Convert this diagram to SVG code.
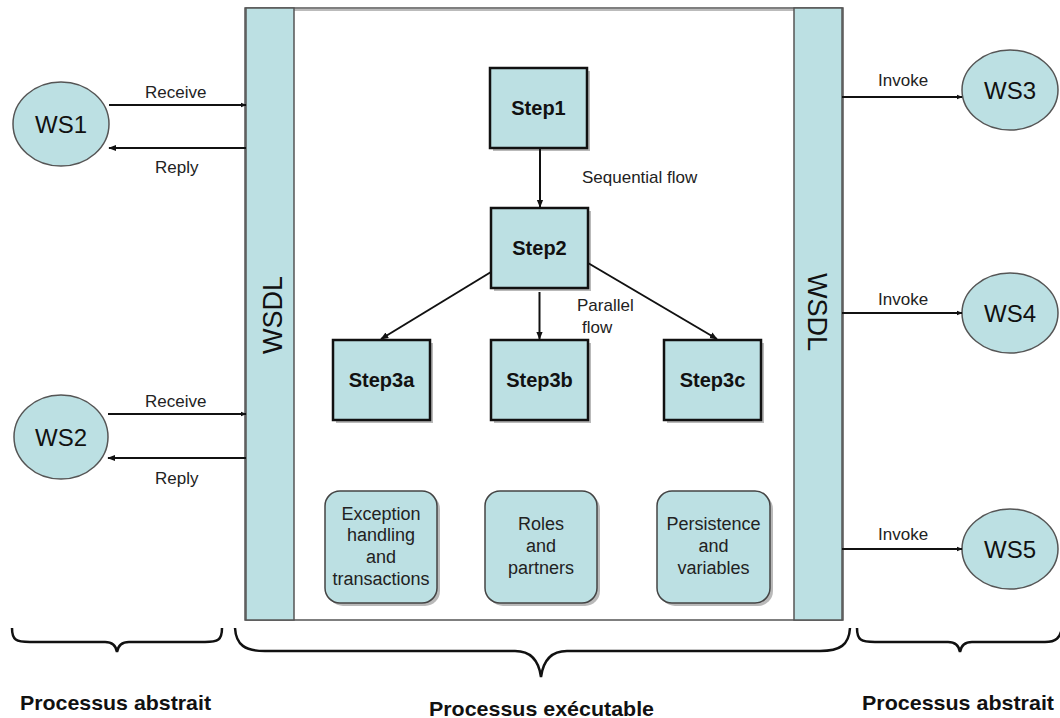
<svg xmlns="http://www.w3.org/2000/svg" width="1060" height="718" viewBox="0 0 1060 718">
<style>
.fill{fill:#BCE0E3}
.ell{fill:#BCE0E3;stroke:#555;stroke-width:1.5}
.bar{fill:#BCE0E3;stroke:#555;stroke-width:1.5}
.step{fill:#BCE0E3;stroke:#111;stroke-width:2.5}
.shadow{fill:#8a8a8a;opacity:0.6}
.rbox{fill:#BCE0E3;stroke:#444;stroke-width:1.5}
.ws{font-family:"Liberation Sans",Arial,sans-serif;font-size:24px;fill:#111;text-anchor:middle}
.st{font-family:"Liberation Sans",Arial,sans-serif;font-size:20px;font-weight:bold;fill:#111;text-anchor:middle}
.lbl{font-family:"Liberation Sans",Arial,sans-serif;font-size:17px;fill:#222}
.bt{font-family:"Liberation Sans",Arial,sans-serif;font-size:18px;fill:#222;text-anchor:middle}
.big{font-family:"Liberation Sans",Arial,sans-serif;font-size:21px;font-weight:bold;fill:#111}
.wsdl{font-family:"Liberation Sans",Arial,sans-serif;font-size:27px;fill:#111;text-anchor:middle}
.ln{stroke:#111;stroke-width:2;fill:none}
.brace{stroke:#111;stroke-width:2.5;fill:none}
</style>
<defs>
<marker id="ah" viewBox="0 0 10 10" refX="9" refY="5" markerWidth="6" markerHeight="6" markerUnits="userSpaceOnUse" orient="auto">
<path d="M0,1 L10,5 L0,9 z" fill="#111"/>
</marker>
<marker id="ah2" viewBox="0 0 10 10" refX="9" refY="5" markerWidth="8" markerHeight="8" markerUnits="userSpaceOnUse" orient="auto">
<path d="M0,1 L10,5 L0,9 z" fill="#111"/>
</marker>
</defs>
<rect width="1060" height="718" fill="#fff"/>

<g id="frame">
<rect x="245" y="8" width="598" height="612" fill="#fff" stroke="#555" stroke-width="1.5"/>
<line x1="294" y1="10" x2="794" y2="10" stroke="#bbb" stroke-width="2"/>
</g>
<g id="wsdl-left">
<rect class="bar" x="246" y="8" width="48" height="612"/>
<text class="wsdl" transform="translate(282,315) rotate(-90)">WSDL</text>
</g>
<g id="wsdl-right">
<rect class="bar" x="794" y="8" width="48" height="612"/>
<text class="wsdl" transform="translate(808,312) rotate(90)">WSDL</text>
</g>

<g id="ws1">
<ellipse class="ell" cx="61" cy="124" rx="48" ry="42"/>
<text class="ws" x="61" y="133">WS1</text>
</g>
<g id="ws2">
<ellipse class="ell" cx="61" cy="437" rx="47" ry="42"/>
<text class="ws" x="61" y="446">WS2</text>
</g>
<g id="ws3">
<ellipse class="ell" cx="1010" cy="90" rx="48" ry="40"/>
<text class="ws" x="1010" y="99">WS3</text>
</g>
<g id="ws4">
<ellipse class="ell" cx="1010" cy="313" rx="48" ry="40"/>
<text class="ws" x="1010" y="322">WS4</text>
</g>
<g id="ws5">
<ellipse class="ell" cx="1010" cy="549" rx="48" ry="40"/>
<text class="ws" x="1010" y="558">WS5</text>
</g>

<g id="step1">
<rect class="shadow" x="493" y="71" width="97" height="80"/>
<rect class="step" x="490" y="68" width="97" height="80"/>
<text class="st" x="538.5" y="115">Step1</text>
</g>
<g id="step2">
<rect class="shadow" x="494" y="211" width="97" height="80"/>
<rect class="step" x="491" y="208" width="97" height="80"/>
<text class="st" x="539.5" y="255">Step2</text>
</g>
<g id="step3a">
<rect class="shadow" x="336" y="343" width="97" height="80"/>
<rect class="step" x="333" y="340" width="97" height="80"/>
<text class="st" x="381.5" y="387">Step3a</text>
</g>
<g id="step3b">
<rect class="shadow" x="494" y="343" width="97" height="80"/>
<rect class="step" x="491" y="340" width="97" height="80"/>
<text class="st" x="539.5" y="387">Step3b</text>
</g>
<g id="step3c">
<rect class="shadow" x="667" y="343" width="97" height="80"/>
<rect class="step" x="664" y="340" width="97" height="80"/>
<text class="st" x="712.5" y="387">Step3c</text>
</g>

<g id="exception">
<rect class="shadow" x="328" y="494" width="112" height="112" rx="15"/>
<rect class="rbox" x="325" y="491" width="112" height="112" rx="15"/>
<text class="bt" x="381" y="520">Exception</text>
<text class="bt" x="381" y="541">handling</text>
<text class="bt" x="381" y="563">and</text>
<text class="bt" x="381" y="585">transactions</text>
</g>
<g id="roles">
<rect class="shadow" x="488" y="494" width="112" height="112" rx="15"/>
<rect class="rbox" x="485" y="491" width="112" height="112" rx="15"/>
<text class="bt" x="541" y="530">Roles</text>
<text class="bt" x="541" y="552">and</text>
<text class="bt" x="541" y="574">partners</text>
</g>
<g id="persistence">
<rect class="shadow" x="660" y="494" width="113" height="112" rx="15"/>
<rect class="rbox" x="657" y="491" width="113" height="112" rx="15"/>
<text class="bt" x="713.5" y="530">Persistence</text>
<text class="bt" x="713.5" y="552">and</text>
<text class="bt" x="713.5" y="574">variables</text>
</g>

<g id="connectors">
<line class="ln" x1="109" y1="105" x2="246" y2="105" marker-end="url(#ah)"/>
<line class="ln" x1="246" y1="148" x2="109" y2="148" marker-end="url(#ah2)"/>
<line class="ln" x1="108" y1="414" x2="246" y2="414" marker-end="url(#ah)"/>
<line class="ln" x1="246" y1="458" x2="108" y2="458" marker-end="url(#ah2)"/>
<line class="ln" x1="842" y1="97" x2="962" y2="97" marker-end="url(#ah)"/>
<line class="ln" x1="842" y1="313" x2="962" y2="313" marker-end="url(#ah)"/>
<line class="ln" x1="842" y1="549" x2="962" y2="549" marker-end="url(#ah)"/>
<line class="ln" x1="540" y1="148" x2="540" y2="207" marker-end="url(#ah2)"/>
<line class="ln" x1="539.5" y1="292" x2="539.5" y2="339" stroke-width="2.5" marker-end="url(#ah2)"/>
<line class="ln" x1="491" y1="272" x2="381" y2="339" stroke-width="2.5" marker-end="url(#ah2)"/>
<line class="ln" x1="588" y1="263" x2="717" y2="339" stroke-width="2.5" marker-end="url(#ah2)"/>
<text class="lbl" x="145" y="98">Receive</text>
<text class="lbl" x="155" y="173">Reply</text>
<text class="lbl" x="145" y="407">Receive</text>
<text class="lbl" x="155" y="484">Reply</text>
<text class="lbl" x="878" y="86">Invoke</text>
<text class="lbl" x="878" y="305">Invoke</text>
<text class="lbl" x="878" y="540">Invoke</text>
<text class="lbl" x="582" y="183">Sequential flow</text>
<text class="lbl" x="577" y="311">Parallel</text>
<text class="lbl" x="582" y="333">flow</text>
</g>

<g id="braces">
<path class="brace" d="M12,628 C12,640 16,642 30,642 L105,642 C113,642 116,646 117,652 C118,646 121,642 129,642 L205,642 C218,642 222,640 222,628"/>
<path class="brace" d="M235,628 C236,645 245,651 265,651 L515,651 C532,651 539,662 541,677 C543,662 550,651 567,651 L820,651 C840,651 849,645 850,628"/>
<path class="brace" d="M857,628 C857,640 861,642 875,642 L948,642 C956,642 959,646 960,652 C961,646 964,642 972,642 L1045,642 C1056,642 1060,638 1062,628"/>
</g>
<g id="labels">
<text class="big" x="20" y="710" textLength="191" lengthAdjust="spacingAndGlyphs">Processus abstrait</text>
<text class="big" x="429" y="716" textLength="225" lengthAdjust="spacingAndGlyphs">Processus exécutable</text>
<text class="big" x="862" y="710" textLength="192" lengthAdjust="spacingAndGlyphs">Processus abstrait</text>
</g>
</svg>
